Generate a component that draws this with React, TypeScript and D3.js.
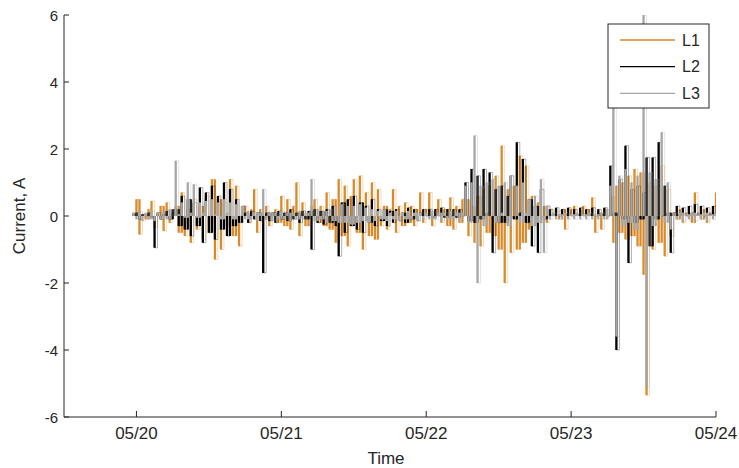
import React from "react";
import * as d3 from "d3";

const seriesNames = ["L1", "L2", "L3"];
const seriesColors = ["#d98a2b", "#000000", "#a6a6a6"];
const startTime = Date.UTC(2015, 4, 19, 23, 30);
const stepMinutes = 30;
const yTicks = [-6, -4, -2, 0, 2, 4, 6];
const xTickLabels = ["05/20", "05/21", "05/22", "05/23", "05/24"];
const xTickDays = [20, 21, 22, 23, 24];

const L1 = [
  0.1, 0.5, -0.55, 0.05, -0.1, 0.2, 0.45, -0.35, 0.0, 0.3,
  -0.45, 0.4, -0.2, 0.1, 0.3, -0.5, 0.7, -0.6, 0.2, -0.8,
  0.5, -0.4, 0.3, -0.7, 0.6, -0.5, 1.1, -1.3, 0.5, -1.0,
  0.4, -0.3, 1.1, -0.6, 0.9, -0.9, 0.2, 0.3, -0.2, 0.2,
  0.8, -0.5, 0.2, -0.1, 0.3, -0.3, 0.1, 0.2, -0.2, 0.6,
  -0.3, 0.5, -0.4, 0.3, 1.0, -0.6, 0.4, -0.3, -0.3, 0.3,
  0.5, -0.2, 0.3, -0.3, 0.7, -0.4, 0.5, -0.8, 1.1, -0.6,
  0.9, -0.9, 0.6, 1.1, -0.5, 1.2, -1.0, 0.7, -0.6, 1.0,
  -0.7, 0.8, -0.3, 0.3, -0.4, 0.2, 0.8, -0.5, 0.3, -0.3,
  0.4, -0.2, 0.3, -0.3, 0.2, 0.7, -0.2, 0.2, 0.7, -0.3,
  0.2, 0.5, -0.2, 0.2, -0.3, 0.55, -0.4, 0.3, -0.2, 0.5,
  0.5, -0.6, 0.3, -0.8, 0.6, -0.9, 0.8, -0.5, 0.9, -0.6,
  1.2, -1.0, 2.1, -2.0, 0.8, -1.1, 0.9, -1.0, 1.8, -0.8,
  1.5, -0.4, 0.6, -0.3, 0.4, -0.2, 0.3, -0.2, 0.2, 0.0,
  0.15, -0.1, 0.2, -0.4, 0.1, 0.2, 0.3, 0.0, 0.15, 0.3,
  0.0, 0.2, 0.55, -0.5, 0.1, -0.4, 0.2, 0.0, 0.6, -0.8,
  0.9, -0.5, 1.0, -0.7, 1.2, -0.6, 1.4, -0.9, 1.3, -1.75,
  -5.35, 1.0, -1.0, 0.9, -0.8, 1.5, -1.2, 0.8, -0.6, 0.1,
  -0.1, 0.2, -0.2, 0.1, 0.0, -0.2, 0.7, 0.1, -0.1, 0.2,
  -0.2, 0.1, 0.0, 0.7, 0.1,
];

const L2 = [
  0.05, 0.1, -0.1, 0.05, 0.0, 0.1, -0.05, -0.95, 0.1, -0.1,
  0.05, 0.15, -0.1, 0.2, 0.2, -0.3, 0.6, -0.4, 0.5, -0.6,
  0.4, -0.3, 0.85, -0.8, 0.7, -0.5, 0.9, -0.7, 0.6, -0.4,
  1.0, -0.6, 0.8, -0.3, 0.5, -0.2, 0.3, 0.1, -0.2, 0.15,
  -0.1, 0.1, -0.15, -1.7, 0.1, -0.15, 0.1, -0.2, 0.15, -0.1,
  0.1, -0.15, 0.2, -0.1, 0.1, -0.2, 0.15, -0.1, 0.15, -1.0,
  0.2, -0.2, 0.15, -0.25, 0.2, -0.2, 0.3, -0.3, -1.2, 0.4,
  -0.5, 0.5, -0.3, 0.6, -0.4, 0.4, -0.5, 0.3, -0.2, 0.5,
  -0.3, 0.2, -0.15, 0.2, -0.3, 0.15, -0.2, 0.2, -0.15, 0.1,
  -0.2, 0.25, -0.1, 0.2, -0.15, 0.1, 0.2, 0.0, 0.2, -0.05,
  0.2, 0.0, 0.25, -0.05, 0.2, 0.0, 0.2, -0.05, 0.2, 0.0,
  1.0, -0.15, 1.4, -0.2, 1.2, -0.1, 1.4, 0.1, 1.3, -1.1,
  0.8, -0.2, 0.9, -0.2, 0.6, 1.2, -0.1, 2.2, 0.1, 1.7,
  -0.2, 0.5, -0.9, 0.3, -1.1, 0.8, -0.1, 0.3, 0.2, 0.05,
  0.25, 0.0, 0.2, 0.05, 0.25, 0.0, 0.2, 0.05, 0.25, 0.0,
  0.2, 0.05, 0.25, 0.0, 0.2, 0.05, 0.25, 0.0, 1.5, 0.1,
  -4.0, 1.1, -0.1, 2.1, -1.4, 0.8, -0.2, 0.9, -0.1, 0.7,
  1.75, -0.9, 1.75, -0.1, 2.2, 0.0, 0.9, 0.1, -1.1, 0.1,
  0.3, 0.05, 0.25, 0.0, 0.3, 0.1, 0.35, 0.05, 0.3, 0.0,
  0.25, 0.05, 0.3, 0.1, 0.2,
];

const L3 = [
  0.1, -0.1, 0.15, -0.15, 0.1, -0.1, 0.15, -0.15, 0.1, -0.1,
  0.15, -0.1, 0.2, 0.0, 1.65, 0.05, 0.4, -0.05, 1.0, 0.1,
  0.95, -0.05, 0.4, 0.1, 0.45, 0.0, 0.5, 0.05, 0.4, -0.1,
  0.5, 0.1, 0.4, -0.1, 0.35, 0.0, 0.3, -0.1, 0.15, -0.1,
  0.1, -0.15, 0.1, 0.8, -0.1, 0.1, -0.15, 0.1, -0.1, 0.15,
  -0.1, 0.1, -0.15, 0.1, -0.1, 0.15, -0.1, 0.1, 0.1, 1.1,
  -0.15, 0.2, -0.1, 0.15, -0.2, 0.2, -0.15, 0.3, -0.2, 0.35,
  -0.2, 0.3, -0.25, 0.3, -0.2, 0.35, -0.15, 0.25, -0.2, 0.2,
  -0.15, 0.15, -0.1, 0.2, -0.15, 0.1, -0.1, 0.15, -0.15, 0.1,
  -0.1, 0.15, -0.1, 0.1, -0.15, 0.1, -0.1, 0.1, -0.1, 0.15,
  -0.1, 0.1, -0.15, 0.1, -0.1, 0.15, -0.1, 0.1, -0.15, 0.1,
  0.9, -0.2, 1.0, 2.4, -2.0, 0.9, -0.3, 1.0, 0.0, 1.1,
  -0.2, 0.9, 0.1, 1.0, -0.3, 1.2, 0.0, 0.9, -0.2, 1.0,
  0.1, 0.5, -0.3, 0.6, -0.2, 1.1, -1.1, 0.3, -0.1, 0.1,
  -0.1, 0.05, -0.1, 0.1, -0.1, 0.05, -0.1, 0.1, -0.1, 0.05,
  -0.1, 0.1, -0.1, 0.05, -0.1, 0.1, -0.1, 0.2, 0.9, 4.5,
  -3.6, 1.2, -0.3, 1.4, -0.2, 1.0, -0.4, 1.2, 0.0, 6.0,
  -5.1, 1.3, -0.3, 1.1, 0.0, 2.5, -0.2, 1.0, -0.4, 0.1,
  -0.1, 0.1, -0.15, 0.05, -0.1, 0.1, -0.15, 0.05, -0.1, 0.1,
  -0.15, 0.05, -0.1, 0.1, 0.0,
];

const seriesValues = [L1, L2, L3];

const W = 739;
const H = 468;
const left = 64;
const right = 716;
const top = 15;
const bottom = 417;
const FONT = "'Liberation Sans', Arial, sans-serif";

export default function App() {
  const x = d3
    .scaleUtc()
    .domain([new Date(Date.UTC(2015, 4, 19, 12, 0)), new Date(Date.UTC(2015, 4, 24, 0, 0))])
    .range([left, right]);
  const y = d3.scaleLinear().domain([-6, 6]).range([bottom, top]);

  const timeOf = (i: number) => new Date(startTime + i * stepMinutes * 60000);

  const sweepPath = (vals: number[]) => {
    const p = d3.path();
    vals.forEach((v, i) => {
      const prev = i > 0 ? vals[i - 1] : v;
      const base = Math.abs(prev) < Math.abs(v) ? prev : 0;
      const lo = Math.min(base, v, 0);
      const hi = Math.max(base, v, 0);
      const xi = x(timeOf(i));
      p.moveTo(xi, y(hi));
      p.lineTo(xi, y(lo));
    });
    return p.toString();
  };
  const trace = d3
    .line<number>()
    .x((_, i) => x(timeOf(i)))
    .y((d) => y(d))
    .curve(d3.curveStepAfter);

  const xTicks = xTickDays.map((d) => new Date(Date.UTC(2015, 4, d)));

  return (
    <svg
      width={W}
      height={H}
      style={{ position: "absolute", left: 0, top: 0, background: "#fff" }}
      fontFamily={FONT}
    >
      <rect x={0} y={0} width={W} height={H} fill="#fff" />
      <defs>
        <clipPath id="plotclip">
          <rect x={left} y={top} width={right - left} height={bottom - top} />
        </clipPath>
      </defs>
      <g clipPath="url(#plotclip)">
        {seriesValues.map((vals, k) => (
          <g key={seriesNames[k]}>
            <path
              d={trace(vals) || ""}
              fill="none"
              stroke={seriesColors[k]}
              strokeWidth={0.6}
              strokeOpacity={0.5}
            />
            <path d={sweepPath(vals)} fill="none" stroke={seriesColors[k]} strokeWidth={2.3} />
          </g>
        ))}
      </g>
      <line x1={left} x2={left} y1={top} y2={bottom} stroke="#262626" strokeWidth={1} />
      <line x1={left} x2={right} y1={bottom} y2={bottom} stroke="#262626" strokeWidth={1} />
      {yTicks.map((t) => (
        <g key={"y" + t}>
          <line x1={left} x2={left + 5} y1={y(t)} y2={y(t)} stroke="#262626" />
          <text
            x={left - 6}
            y={y(t)}
            textAnchor="end"
            dominantBaseline="central"
            fontSize={15}
            fill="#262626"
          >
            {t}
          </text>
        </g>
      ))}
      {xTicks.map((t, i) => (
        <g key={"x" + i}>
          <line x1={x(t)} x2={x(t)} y1={bottom} y2={bottom - 6} stroke="#262626" />
          <text x={x(t)} y={439} textAnchor="middle" fontSize={17} fill="#262626">
            {xTickLabels[i]}
          </text>
        </g>
      ))}
      <text x={386} y={464} textAnchor="middle" fontSize={17} fill="#262626">
        Time
      </text>
      <text
        transform={`translate(25,${(top + bottom) / 2}) rotate(-90)`}
        textAnchor="middle"
        fontSize={17}
        fill="#262626"
      >
        Current, A
      </text>
      <rect x={608} y={24} width={101} height={84} fill="#fff" stroke="#262626" strokeWidth={1} />
      {seriesNames.map((n, k) => (
        <g key={"leg" + n}>
          <line
            x1={620}
            x2={675}
            y1={40 + k * 26.7}
            y2={40 + k * 26.7}
            stroke={seriesColors[k]}
            strokeWidth={1.3}
          />
          <text
            x={682}
            y={40 + k * 26.7}
            dominantBaseline="central"
            fontSize={16}
            fill="#262626"
          >
            {n}
          </text>
        </g>
      ))}
    </svg>
  );
}
